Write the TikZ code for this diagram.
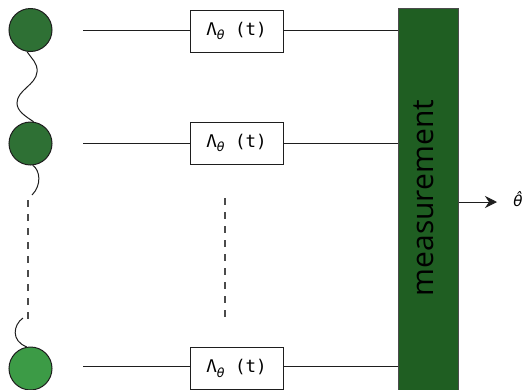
\documentclass[tikz,border=0pt]{standalone}
\usepackage{fontspec}
\newfontfamily\msans{Open Sans}
\newfontfamily\mmono{DejaVu Sans Mono}
\newfontfamily\dvsans{DejaVu Sans}
\usetikzlibrary{arrows.meta}
\definecolor{qdark}{RGB}{46,112,52}
\definecolor{qlight}{RGB}{60,155,70}
\definecolor{mgreen}{RGB}{31,94,34}
\definecolor{wire}{RGB}{30,30,30}
\tikzset{
  qubit/.style={circle, draw=wire, line width=1pt, minimum size=43pt, inner sep=0pt},
  gate/.style={draw=wire, line width=1pt, fill=white, minimum width=93pt, minimum height=42pt, inner sep=0pt,
               font=\mmono\fontsize{17.5}{20}\selectfont},
  wireline/.style={draw=wire, line width=1pt},
  dotsline/.style={draw=wire!80, line width=1.2pt, dash pattern=on 7pt off 7pt},
  wiggle/.style={draw=wire, line width=1pt},
}
\newcommand{\gatelabel}{Λ\raisebox{-0.25em}{\dvsans\itshape\fontsize{12.5}{14}\selectfont θ} (t)}
\begin{document}
\begin{tikzpicture}[x=1pt, y=-1pt]
\useasboundingbox (0,0) rectangle (525,389);
% qubits
\node[qubit, fill=qdark] (q1) at (30.5,30) {};
\node[qubit, fill=qdark] (q2) at (30.5,143.5) {};
\node[qubit, fill=qlight] (q3) at (30.5,368.5) {};
% measurement
\node[draw=wire!80, line width=1pt, fill=mgreen, minimum width=60pt, minimum height=400pt, inner sep=0pt] (m) at (428,208) {};
\node[rotate=90, font=\msans\fontsize{30}{34}\selectfont, text=black] (mtext) at (424,198) {measurement};
% gates
\node[gate] (g1) at (236.5,31) {\gatelabel};
\node[gate] (g2) at (236.5,143) {\gatelabel};
\node[gate] (g3) at (236.5,368.5) {\gatelabel};
% wires
\coordinate (s1) at (83,30);
\coordinate (s2) at (83,143);
\coordinate (s3) at (83,366);
\draw[wireline] (s1) -- (s1 -| g1.west);
\draw[wireline] (g1.east |- s1) -- (s1 -| m.west);
\draw[wireline] (s2) -- (s2 -| g2.west);
\draw[wireline] (g2.east |- s2) -- (s2 -| m.west);
\draw[wireline] (s3) -- (s3 -| g3.west);
\draw[wireline] (g3.east |- s3) -- (s3 -| m.west);
% vertical dots in middle
\coordinate (d1) at (225,198);
\coordinate (d2) at (225,318);
\draw[dotsline] (d1) -- (d2);
% wiggly chain
\draw[wiggle] (q1.-99) .. controls (31,58) and (38,63) .. (37,72)
  .. controls (36,85) and (17,90) .. (17,103)
  .. controls (17,111) and (25,116) .. (q2.82);
\coordinate (c2e) at (32,195);
\draw[wiggle] (q2.-84) .. controls (40,170) and (42,185) .. (c2e);
\coordinate (l1) at (28,200);
\coordinate (l2) at (28,320);
\draw[dotsline] (l1) -- (l2);
\coordinate (c3s) at (23,318);
\draw[wiggle] (c3s) .. controls (13,325) and (11,341) .. (q3.100);
% output
\coordinate (ae) at (497,202);
\draw[wireline, -{Stealth[length=12pt,width=12pt,inset=4pt]}] (m.east |- ae) -- (ae);
\node[font=\dvsans\itshape\fontsize{15}{18}\selectfont, inner sep=0pt] (th) at (518,199) {θ̂};
\end{tikzpicture}
\end{document}
